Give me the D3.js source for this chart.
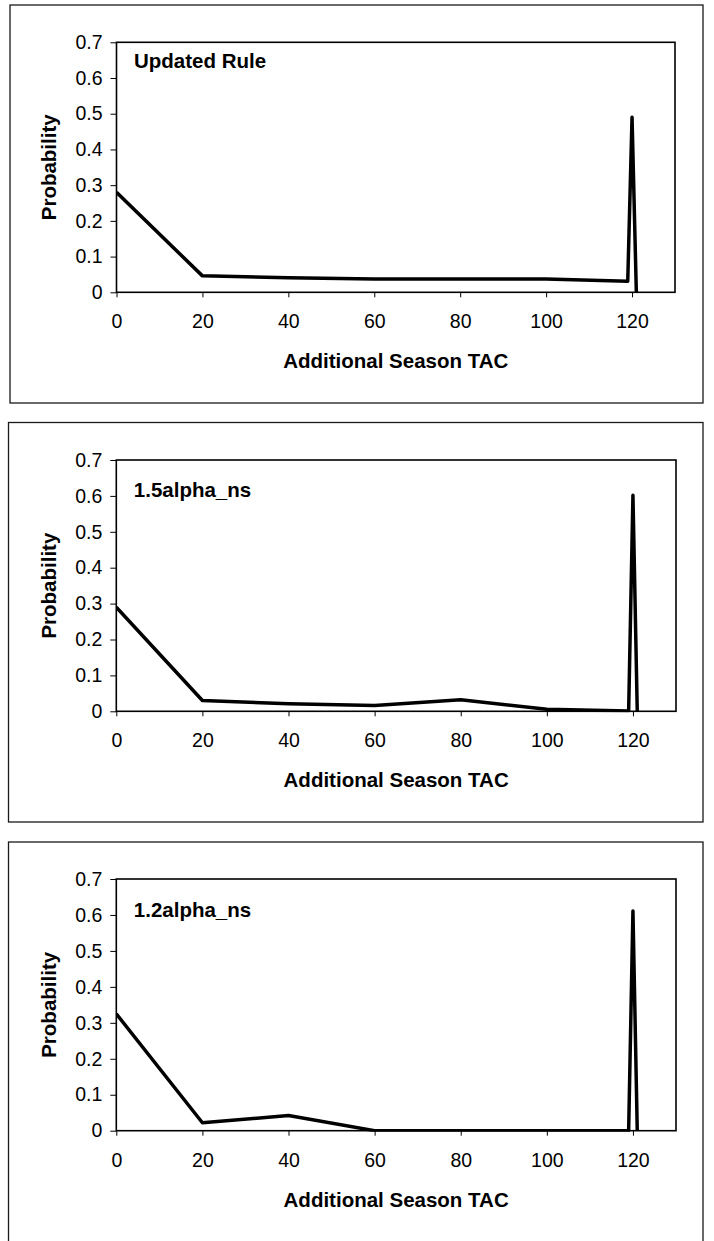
<!DOCTYPE html>
<html>
<head>
<meta charset="utf-8">
<script src="https://cdn.jsdelivr.net/npm/d3@7"></script>
<style>
  body { margin: 0; background: #fff; }
  svg { display: block; font-family: "Liberation Sans", Arial, sans-serif; }
</style>
</head>
<body>
<svg id="chart" width="714" height="1241"></svg>
<script>
// x positions of the probability points (TAC values)
const tacValues = [0, 20, 40, 60, 80, 100, 119, 120, 121];

const panelNames = ["Updated Rule", "1.5alpha_ns", "1.2alpha_ns"];

const updatedRule = [0.28, 0.046, 0.041, 0.037, 0.037, 0.037, 0.031, 0.49, 0];
const alpha15 = [0.29, 0.03, 0.021, 0.016, 0.032, 0.006, 0.001, 0.602, 0];
const alpha12 = [0.325, 0.022, 0.042, 0, 0, 0, 0, 0.611, 0];

const xTicks = [0, 20, 40, 60, 80, 100, 120];
const yTicks = [0, 0.1, 0.2, 0.3, 0.4, 0.5, 0.6, 0.7];

const xTitle = "Additional Season TAC";
const yTitle = "Probability";

// layout of each panel: outer box and plot area
const panelLayout = [
  { boxX: 10, boxY: 5, boxW: 693, boxH: 398, left: 116.5, top: 42.3, right: 675, bottom: 292.3, labelDy: 26 },
  { boxX: 8.5, boxY: 422.5, boxW: 694.5, boxH: 399.5, left: 116.3, top: 460, right: 676, bottom: 711.3, labelDy: 37 },
  { boxX: 8.5, boxY: 842, boxW: 694.5, boxH: 420, left: 116.3, top: 879, right: 676, bottom: 1130.7, labelDy: 38 },
];

const series = [updatedRule, alpha15, alpha12];

const svg = d3.select("#chart");

function drawPanel(i) {
  const L = panelLayout[i];
  const values = series[i];
  const data = tacValues.map((x, j) => ({ x: x, y: values[j] }));

  svg
    .append("rect")
    .attr("x", L.boxX)
    .attr("y", L.boxY)
    .attr("width", L.boxW)
    .attr("height", L.boxH)
    .attr("fill", "none")
    .attr("stroke", "#1a1a1a")
    .attr("stroke-width", 1.3);

  const width = L.right - L.left,
    height = L.bottom - L.top;

  const g = svg
    .append("g")
    .attr("transform", "translate(" + L.left + "," + L.top + ")");

  const x = d3.scaleLinear().domain([0, 130]).range([0, width]);
  const y = d3.scaleLinear().domain([0, 0.7]).range([height, 0]);

  // y axis
  const yAxis = g
    .append("g")
    .call(
      d3
        .axisLeft(y)
        .tickValues(yTicks)
        .tickSize(6)
        .tickPadding(8)
        .tickFormat((d) => (d === 0 ? "0" : d3.format(".1f")(d)))
    );
  yAxis.select(".domain").remove();
  yAxis.selectAll("line").attr("stroke", "#000").attr("stroke-width", 1);
  yAxis
    .selectAll("text")
    .attr("font-size", 19.5)
    .attr("font-family", "Liberation Sans, Arial, sans-serif")
    .attr("fill", "#000");

  // x axis
  const xAxis = g
    .append("g")
    .attr("transform", "translate(0," + height + ")")
    .call(d3.axisBottom(x).tickValues(xTicks).tickSize(5).tickPadding(17));
  xAxis.select(".domain").remove();
  xAxis.selectAll("line").attr("stroke", "#000").attr("stroke-width", 1);
  xAxis
    .selectAll("text")
    .attr("font-size", 19.5)
    .attr("font-family", "Liberation Sans, Arial, sans-serif")
    .attr("fill", "#000");

  // clip the line to the plot area
  const clipId = "clip" + i;
  g.append("clipPath")
    .attr("id", clipId)
    .append("rect")
    .attr("width", width)
    .attr("height", height + 1);

  const line = d3
    .line()
    .x((d) => x(d.x))
    .y((d) => y(d.y));

  g.append("path")
    .datum(data)
    .attr("clip-path", "url(#" + clipId + ")")
    .attr("d", line)
    .attr("fill", "none")
    .attr("stroke", "#000")
    .attr("stroke-width", 3.5)
    .attr("stroke-linejoin", "round");

  // plot frame
  g.append("rect")
    .attr("width", width)
    .attr("height", height)
    .attr("fill", "none")
    .attr("stroke", "#000")
    .attr("stroke-width", 1.6);

  // panel label
  g.append("text")
    .attr("x", 17.5)
    .attr("y", L.labelDy)
    .attr("font-size", 20.5)
    .attr("font-weight", "bold")
    .text(panelNames[i]);

  // axis titles
  g.append("text")
    .attr("x", width / 2)
    .attr("y", height + 76)
    .attr("text-anchor", "middle")
    .attr("font-size", 20.5)
    .attr("font-weight", "bold")
    .text(xTitle);

  g.append("text")
    .attr("transform", "translate(" + (56 - L.left) + "," + height / 2 + ") rotate(-90)")
    .attr("text-anchor", "middle")
    .attr("font-size", 20.5)
    .attr("font-weight", "bold")
    .text(yTitle);
}

panelNames.forEach((d, i) => drawPanel(i));
</script>
</body>
</html>
